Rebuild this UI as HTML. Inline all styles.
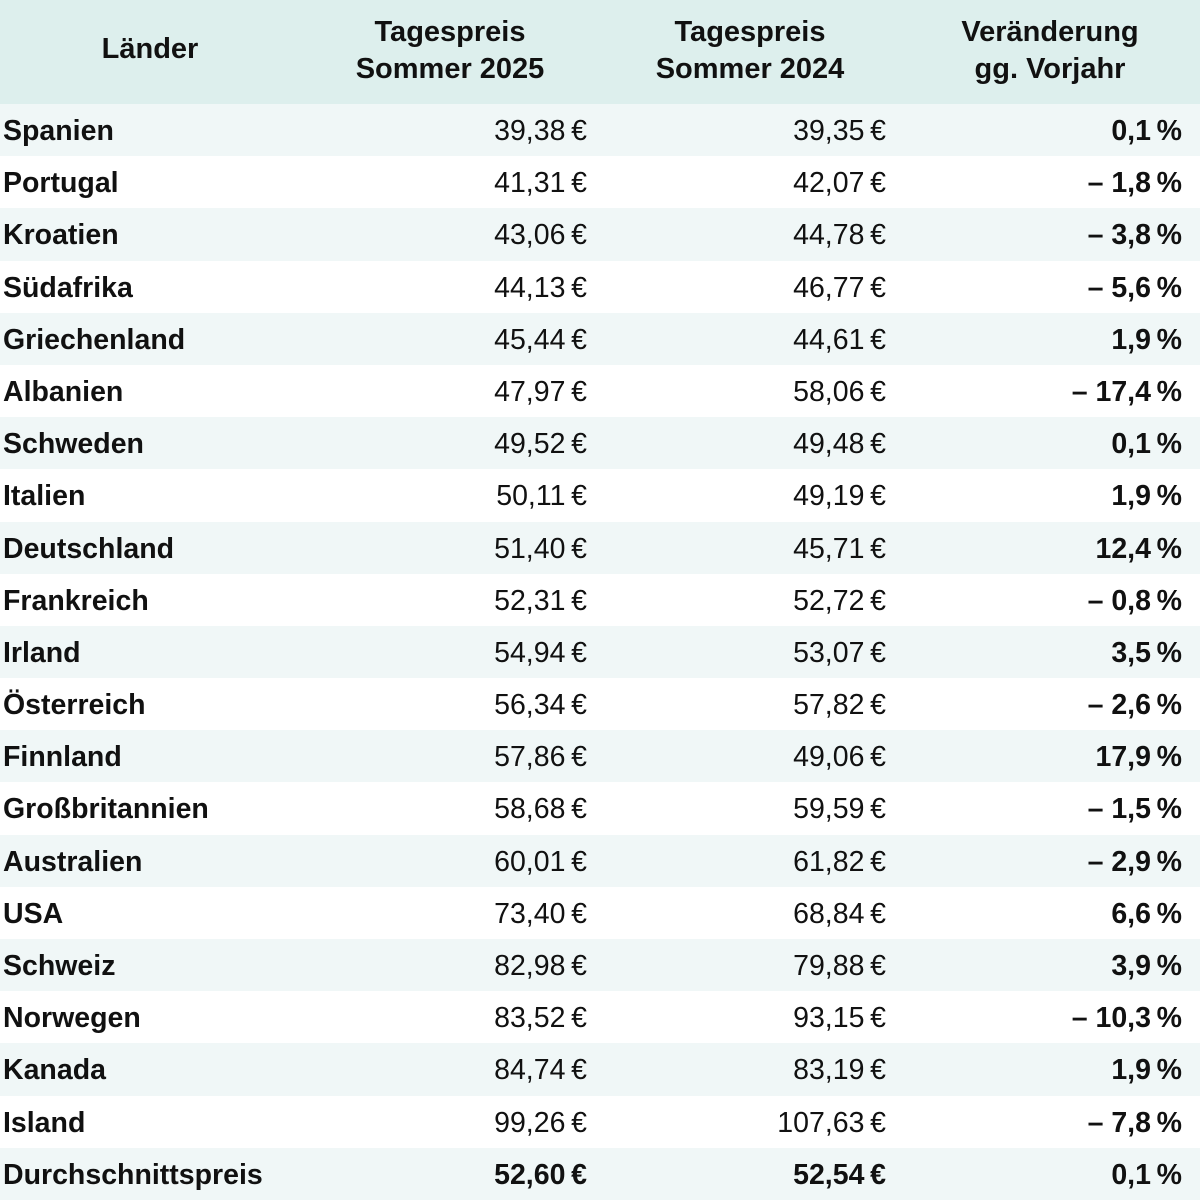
<!DOCTYPE html>
<html><head><meta charset="utf-8"><style>
*{margin:0;padding:0;box-sizing:border-box}
body{width:1200px;height:1200px;background:#fff;font-family:"Liberation Sans",Arial,sans-serif;color:#111;overflow:hidden}
.hdr{position:absolute;left:0;top:0;width:1200px;height:104px;background:#ddefed;font-weight:bold;font-size:29px;line-height:37px}
.hdr div{position:absolute;text-align:center;top:14px}
.row{position:absolute;left:0;width:1200px;height:52.2px;font-size:28.5px}
.row.a{background:#f0f7f7}
.row span{position:absolute;top:12px;line-height:30px;white-space:nowrap}
.c1{left:3px;font-weight:bold}
.c2{right:613px}
.c3{right:314px}
.c4{right:18px;font-weight:bold}
.b .c2,.b .c3{font-weight:bold}
</style></head><body>
<div class="hdr">
<div style="left:30px;width:240px;top:31px">Länder</div>
<div style="left:310px;width:280px">Tagespreis<br>Sommer 2025</div>
<div style="left:610px;width:280px">Tagespreis<br>Sommer 2024</div>
<div style="left:910px;width:280px">Veränderung<br>gg. Vorjahr</div>
</div>
<div id="t"></div>
<script>
var d=[["Spanien","39,38","39,35","0,1"],["Portugal","41,31","42,07","– 1,8"],["Kroatien","43,06","44,78","– 3,8"],["Südafrika","44,13","46,77","– 5,6"],["Griechenland","45,44","44,61","1,9"],["Albanien","47,97","58,06","– 17,4"],["Schweden","49,52","49,48","0,1"],["Italien","50,11","49,19","1,9"],["Deutschland","51,40","45,71","12,4"],["Frankreich","52,31","52,72","– 0,8"],["Irland","54,94","53,07","3,5"],["Österreich","56,34","57,82","– 2,6"],["Finnland","57,86","49,06","17,9"],["Großbritannien","58,68","59,59","– 1,5"],["Australien","60,01","61,82","– 2,9"],["USA","73,40","68,84","6,6"],["Schweiz","82,98","79,88","3,9"],["Norwegen","83,52","93,15","– 10,3"],["Kanada","84,74","83,19","1,9"],["Island","99,26","107,63","– 7,8"],["Durchschnittspreis","52,60","52,54","0,1"]];
var h="";d.forEach(function(r,i){h+='<div class="row'+(i%2==0?' a':'')+(i==20?' b':'')+'" style="top:'+(104+i*52.19)+'px"><span class="c1">'+r[0]+'</span><span class="c2">'+r[1]+'&#8201;€</span><span class="c3">'+r[2]+'&#8201;€</span><span class="c4">'+r[3]+'&#8201;%</span></div>';});
document.getElementById("t").innerHTML=h;
</script>
</body></html>
